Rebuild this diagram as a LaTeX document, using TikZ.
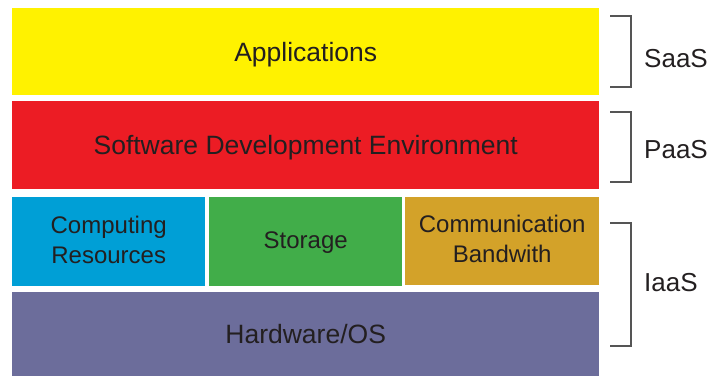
\documentclass[tikz,border=0pt]{standalone}
\usepackage{fontspec}
\setmainfont{Liberation Sans}
\usepackage{tikz}

\definecolor{appyellow}{HTML}{FFF200}
\definecolor{devred}{HTML}{EC1C24}
\definecolor{compblue}{HTML}{009FD6}
\definecolor{storgreen}{HTML}{41AD49}
\definecolor{bandgold}{HTML}{D3A229}
\definecolor{hwpurple}{HTML}{6C6D9B}
\definecolor{labeltext}{HTML}{231F20}
\definecolor{bracketgray}{HTML}{555555}

\begin{document}
\begin{tikzpicture}[x=1pt,y=1pt,
  every node/.style={font=\fontsize{26.5}{30}\selectfont,text=labeltext},
  layer/.style={anchor=north west,inner sep=0,align=center,text depth=0pt},
  smalllayer/.style={layer,font=\fontsize{24}{30}\selectfont,text depth=4pt},
  bracket/.style={bracketgray,line width=1.5}]

\useasboundingbox (0,0) rectangle (724,-376);

\node [layer,fill=appyellow,minimum width=587,minimum height=87] (apps) at (12,-8) {Applications};

\node [layer,fill=devred,minimum width=587,minimum height=88] (sde) at (12,-101) {Software Development Environment};

\node [smalllayer,fill=compblue,minimum width=193,minimum height=89] (comp) at (12,-197) {Computing\\Resources};

\node [smalllayer,fill=storgreen,minimum width=193,minimum height=89] (stor) at (209,-197) {Storage};

\node [smalllayer,fill=bandgold,minimum width=194,minimum height=88] (band) at (405,-197) {Communication\\Bandwith};

\node [layer,fill=hwpurple,minimum width=587,minimum height=84] (hw) at (12,-292) {Hardware/OS};

\draw [bracket] (610,-16) -- (631,-16) -- (631,-87) -- (610,-87);

\draw [bracket] (610,-112) -- (631,-112) -- (631,-182) -- (610,-182);

\draw [bracket] (610,-223) -- (631,-223) -- (631,-346) -- (610,-346);

\node [anchor=west,inner sep=0,font=\fontsize{26}{30}\selectfont] (saas) at (644,-59) {SaaS};

\node [anchor=west,inner sep=0,font=\fontsize{26}{30}\selectfont] (paas) at (644,-150) {PaaS};

\node [anchor=west,inner sep=0,font=\fontsize{26}{30}\selectfont] (iaas) at (644,-283) {IaaS};

\end{tikzpicture}
\end{document}
